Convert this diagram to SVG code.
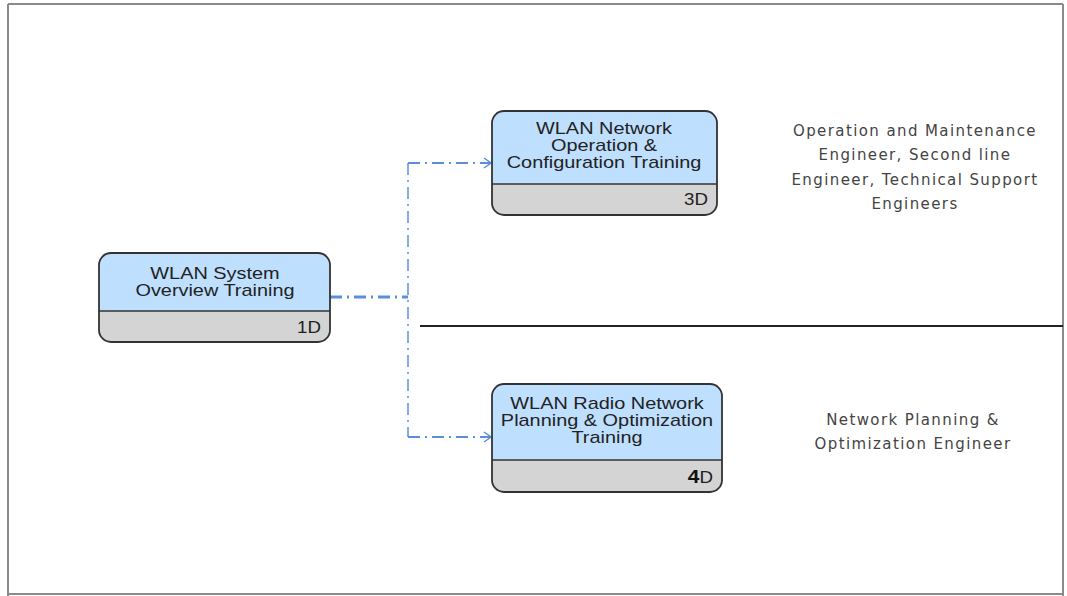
<svg xmlns="http://www.w3.org/2000/svg" width="1067" height="596" viewBox="0 0 1067 596">
<style>
.frame{stroke:#8a8a8a;stroke-width:2;fill:none}
.t{font-family:"Liberation Sans",Arial,sans-serif;font-size:17px;fill:#222;text-anchor:middle}
.d{font-family:"Liberation Sans",Arial,sans-serif;font-size:17px;fill:#222;text-anchor:end}
.r{font-family:"DejaVu Sans",sans-serif;font-size:15px;fill:#444;text-anchor:middle;letter-spacing:1.4px}
.c{stroke:#5b8fdc;fill:none;stroke-dasharray:12 5 2 5}
</style>
<defs>
<marker id="arr" markerWidth="10" markerHeight="12" refX="9" refY="6" orient="auto" markerUnits="userSpaceOnUse">
<path d="M2,1 L9,6 L2,11" fill="none" stroke="#5b8fdc" stroke-width="1.5"/>
</marker>
<clipPath id="c1"><rect x="99" y="253" width="231" height="89" rx="12"/></clipPath>
<clipPath id="c2"><rect x="492" y="111" width="225" height="104" rx="12"/></clipPath>
<clipPath id="c3"><rect x="492" y="384" width="230" height="108" rx="12"/></clipPath>
</defs>
<g id="frame">
<line class="frame" x1="8" y1="4" x2="1063" y2="4"/>
<line class="frame" x1="8" y1="4" x2="8" y2="596"/>
<line class="frame" x1="1063" y1="4" x2="1063" y2="596"/>
<line class="frame" x1="8" y1="594" x2="1063" y2="594" stroke="#ccc"/>
<line x1="420" y1="326" x2="1063" y2="326" stroke="#222" stroke-width="2"/>
</g>
<g id="connectors">
<path class="c" d="M330,297 H408" stroke-width="3"/>
<path class="c" d="M408,163 V437" stroke-width="1.5"/>
<path class="c" d="M408,163 H491" stroke-width="2" marker-end="url(#arr)"/>
<path class="c" d="M408,437 H491" stroke-width="2" marker-end="url(#arr)"/>
</g>
<g id="node1">
<g clip-path="url(#c1)">
<rect x="99" y="253" width="231" height="58" fill="#bfdfff"/>
<rect x="99" y="311" width="231" height="31" fill="#d4d4d4"/>
</g>
<line x1="99" y1="311" x2="330" y2="311" stroke="#333" stroke-width="1.6"/>
<rect x="99" y="253" width="231" height="89" rx="12" fill="none" stroke="#333" stroke-width="1.8"/>
<text class="t" transform="translate(215,279) scale(1.17,1)">WLAN System</text>
<text class="t" transform="translate(215,296) scale(1.17,1)">Overview Training</text>
<text class="d" transform="translate(321,333) scale(1.1,1)">1D</text>
</g>
<g id="node2">
<g clip-path="url(#c2)">
<rect x="492" y="111" width="225" height="73" fill="#bfdfff"/>
<rect x="492" y="184" width="225" height="31" fill="#d4d4d4"/>
</g>
<line x1="492" y1="184" x2="717" y2="184" stroke="#333" stroke-width="1.6"/>
<rect x="492" y="111" width="225" height="104" rx="12" fill="none" stroke="#333" stroke-width="1.8"/>
<text class="t" transform="translate(604,134) scale(1.17,1)">WLAN Network</text>
<text class="t" transform="translate(604,151) scale(1.17,1)">Operation &amp;</text>
<text class="t" transform="translate(604,168) scale(1.17,1)">Configuration Training</text>
<text class="d" transform="translate(708,205) scale(1.1,1)">3D</text>
</g>
<g id="node3">
<g clip-path="url(#c3)">
<rect x="492" y="384" width="230" height="76" fill="#bfdfff"/>
<rect x="492" y="460" width="230" height="32" fill="#d4d4d4"/>
</g>
<line x1="492" y1="460" x2="722" y2="460" stroke="#333" stroke-width="1.6"/>
<rect x="492" y="384" width="230" height="108" rx="12" fill="none" stroke="#333" stroke-width="1.8"/>
<text class="t" transform="translate(607,409) scale(1.17,1)">WLAN Radio Network</text>
<text class="t" transform="translate(607,426) scale(1.17,1)">Planning &amp; Optimization</text>
<text class="t" transform="translate(607,443) scale(1.17,1)">Training</text>
<text class="d" transform="translate(713,483) scale(1.1,1)"><tspan font-weight="bold" font-size="19px" fill="#111">4</tspan>D</text>
</g>
<g id="labels">
<text class="r" x="915" y="136">Operation and Maintenance</text>
<text class="r" x="915" y="160">Engineer, Second line</text>
<text class="r" x="915" y="185">Engineer, Technical Support</text>
<text class="r" x="915" y="209">Engineers</text>
<text class="r" x="913" y="425">Network Planning &amp;</text>
<text class="r" x="913" y="449">Optimization Engineer</text>
</g>
</svg>
